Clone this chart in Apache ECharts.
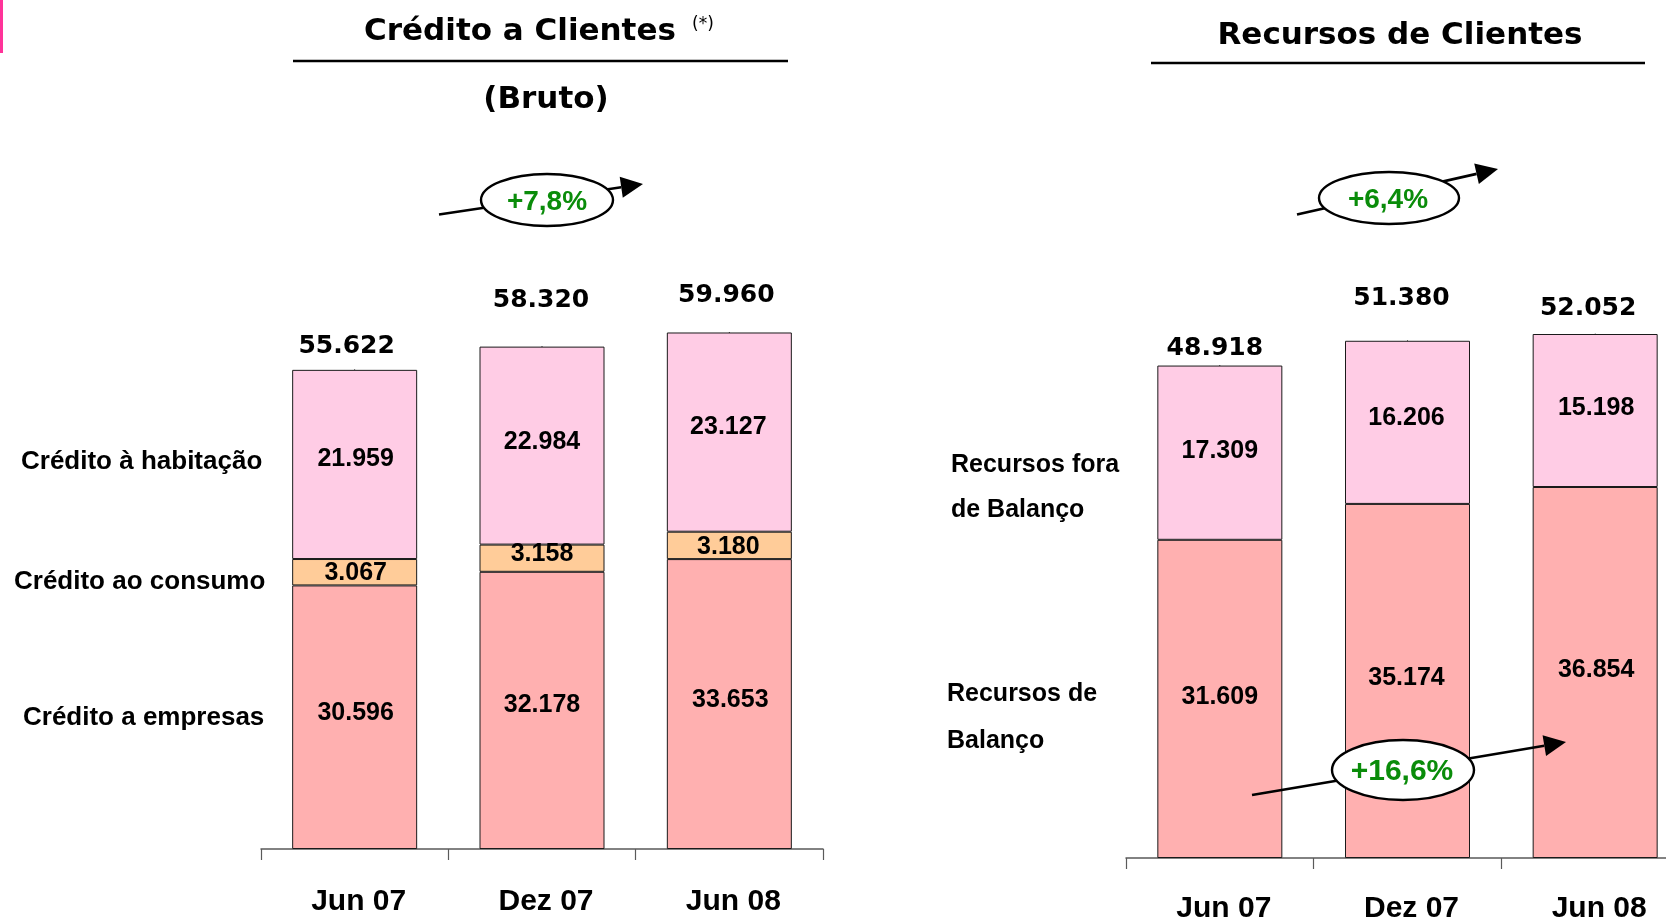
<!DOCTYPE html>
<html>
<head>
<meta charset="utf-8">
<title>Crédito e Recursos de Clientes</title>
<script src="https://cdn.jsdelivr.net/npm/echarts@6/dist/echarts.min.js"></script>
<style>
  html, body { margin: 0; padding: 0; background: #ffffff; width: 1666px; height: 920px; overflow: hidden; }
  /* the right-hand axis runs past the page edge, so the canvas is wider than the page */
  #chart { width: 1720px; height: 920px; }
</style>
</head>
<body>
<div id="chart"></div>
<script>
// Values in € millions
const categories = ['Jun 07', 'Dez 07', 'Jun 08'];

const creditoEmpresas  = [30596, 32178, 33653];
const creditoConsumo   = [3067, 3158, 3180];
const creditoHabitacao = [21959, 22984, 23127];
const creditoTotal     = [55622, 58320, 59960];

const recursosBalanco     = [31609, 35174, 36854];
const recursosForaBalanco = [17309, 16206, 15198];
const recursosTotal       = [48918, 51380, 52052];

// Label nudges (px): [dx, dy] per bar
const nudge = {
  empresas:  [[1, -4.5], [0, -5], [1, -4]],
  consumo:   [[1, 0.4], [0, -3.7], [-1, 2]],
  habitacao: [[1, -5.5], [0, -3.7], [-1, -5]],
  balanco:   [[0, -2], [-1, -3.2], [1, -2.2]],
  fora:      [[0, -1.3], [-1, -3.8], [1, -2.6]],
  totCred:   [[-8, -8.5], [-1, -31.2], [-3, -22.3]],
  totRec:    [[-5, -3], [-6, -27.7], [-7, -10.6]]
};

const COLOR_BOTTOM = '#FFB0B0';
const COLOR_MID    = '#FFCC99';
const COLOR_TOP    = '#FFCCE5';
const GREEN        = '#0A8C0A';

const fmt = v => String(v).replace(/\B(?=(\d{3})+(?!\d))/g, '.');

function withNudge(values, offs) {
  return values.map((v, i) => ({ value: v, label: { offset: offs[i] } }));
}

const insideLabel = {
  show: true,
  position: 'inside',
  formatter: p => fmt(p.value),
  fontFamily: '"Liberation Sans", Arial, sans-serif',
  fontWeight: 'bold',
  fontSize: 25,
  color: '#000',
  textBorderWidth: 0
};

function barSeries(name, values, offs, color, idx, stack) {
  return {
    name, type: 'bar', stack,
    xAxisIndex: idx, yAxisIndex: idx,
    barWidth: 125,
    data: withNudge(values, offs),
    itemStyle: { color, borderColor: '#1a1a1a', borderWidth: 1 },
    label: insideLabel,
    emphasis: { disabled: true },
    silent: true,
    z: 2
  };
}

// A point at each stack total (tucked under the bar's top edge) carries the total label
function totalSeries(values, offs, idx) {
  return {
    type: 'scatter',
    xAxisIndex: idx, yAxisIndex: idx,
    symbol: 'circle',
    symbolSize: 1,
    itemStyle: { color: '#000000', opacity: 1 },
    data: withNudge(values, offs),
    label: {
      show: true, position: 'top', distance: 0,
      formatter: p => fmt(p.value),
      fontFamily: '"DejaVu Sans", sans-serif',
      fontWeight: 'bold',
      fontSize: 25, lineHeight: 28,
      color: '#000000', opacity: 1, textBorderWidth: 0
    },
    emphasis: { disabled: true },
    z: 1, silent: true
  };
}

function xAxis(idx, margin) {
  return {
    type: 'category', gridIndex: idx, data: categories,
    boundaryGap: true,
    axisLine: { lineStyle: { color: '#5a5a5a', width: 1.5 } },
    axisTick: { show: true, alignWithLabel: false, length: 11, lineStyle: { color: '#5a5a5a', width: 1.2 } },
    axisLabel: {
      margin, color: '#000', fontSize: 30, fontWeight: 'bold',
      fontFamily: '"Liberation Sans", Arial, sans-serif',
      padding: [0, 0, 0, 8]
    }
  };
}

function yAxis(idx, max) {
  return { type: 'value', gridIndex: idx, min: 0, max, show: false, splitLine: { show: false } };
}

// Text helper for free-standing captions
function txt(text, x, y, font, align, color) {
  return {
    type: 'text', x, y, z: 102,
    style: { text, font, fill: color || '#000', align: align || 'left', verticalAlign: 'middle' }
  };
}

// Growth badge: arrow passing behind an ellipse with the percentage
function badge(x1, y1, x2, y2, cx, cy, rx, ry, label, tx, ty, size) {
  const dx = x2 - x1, dy = y2 - y1, len = Math.hypot(dx, dy);
  const ux = dx / len, uy = dy / len, px = -uy, py = ux;
  const head = 22, half = 10.5;
  const bx = x2 - ux * head, by = y2 - uy * head;
  return [
    { type: 'line', z: 100, shape: { x1, y1, x2: bx, y2: by }, style: { stroke: '#000', lineWidth: 2.6 } },
    { type: 'polygon', z: 100, shape: { points: [[x2, y2], [bx + px * half, by + py * half], [bx - px * half, by - py * half]] }, style: { fill: '#000' } },
    { type: 'ellipse', z: 101, shape: { cx, cy, rx, ry }, style: { fill: '#fff', stroke: '#000', lineWidth: 2.4 } },
    txt(label, tx, ty, 'bold ' + size + 'px "Liberation Sans", Arial, sans-serif', 'center', GREEN)
  ];
}

const TITLE_FONT = 'bold 31px "DejaVu Sans", sans-serif';
const ROW_FONT_L = 'bold 26px "Liberation Sans", Arial, sans-serif';
const ROW_FONT_R = 'bold 25px "Liberation Sans", Arial, sans-serif';

const graphics = [
  { type: 'rect', z: 100, shape: { x: 0, y: 0, width: 3, height: 53 }, style: { fill: '#FF3399' } },

  txt('Crédito a Clientes', 364, 32, TITLE_FONT),
  txt('(*)', 692, 25, '17px "DejaVu Sans", sans-serif'),
  { type: 'line', z: 100, shape: { x1: 293, y1: 61, x2: 788, y2: 61 }, style: { stroke: '#000', lineWidth: 2.5 } },
  txt('(Bruto)', 546, 100, TITLE_FONT, 'center'),

  txt('Recursos de Clientes', 1400, 36, TITLE_FONT, 'center'),
  { type: 'line', z: 100, shape: { x1: 1151, y1: 63, x2: 1645, y2: 63 }, style: { stroke: '#000', lineWidth: 2.5 } },

  txt('Crédito à habitação', 21, 462, ROW_FONT_L),
  txt('Crédito ao consumo', 14, 582, ROW_FONT_L),
  txt('Crédito a empresas', 23, 718, ROW_FONT_L),

  txt('Recursos fora', 951, 465, ROW_FONT_R),
  txt('de Balanço', 951, 510, ROW_FONT_R),
  txt('Recursos de', 947, 694, ROW_FONT_R),
  txt('Balanço', 947, 741, ROW_FONT_R),

  ...badge(439, 214.5, 643, 184, 547, 200, 66, 26, '+7,8%', 547, 202, 28),
  ...badge(1297, 214.5, 1498, 169, 1389, 198, 70, 26, '+6,4%', 1388, 200, 28),
  ...badge(1252, 795, 1566, 742, 1403, 770, 71, 30, '+16,6%', 1402, 772, 30)
];

const chart = echarts.init(document.getElementById('chart'), null, { renderer: 'canvas' });

chart.setOption({
  backgroundColor: '#ffffff',
  animation: false,
  grid: [
    { left: 261, top: 246, width: 562, height: 603, outerBoundsMode: 'none' },
    { left: 1126, top: 254, width: 563, height: 604, outerBoundsMode: 'none' }
  ],
  xAxis: [xAxis(0, 38), xAxis(1, 36)],
  yAxis: [yAxis(0, 70000), yAxis(1, 60000)],
  series: [
    barSeries('Crédito a empresas', creditoEmpresas, nudge.empresas, COLOR_BOTTOM, 0, 'credito'),
    barSeries('Crédito ao consumo', creditoConsumo, nudge.consumo, COLOR_MID, 0, 'credito'),
    barSeries('Crédito à habitação', creditoHabitacao, nudge.habitacao, COLOR_TOP, 0, 'credito'),
    totalSeries(creditoTotal, nudge.totCred, 0),

    barSeries('Recursos de Balanço', recursosBalanco, nudge.balanco, COLOR_BOTTOM, 1, 'recursos'),
    barSeries('Recursos fora de Balanço', recursosForaBalanco, nudge.fora, COLOR_TOP, 1, 'recursos'),
    totalSeries(recursosTotal, nudge.totRec, 1)
  ],
  graphic: { elements: graphics }
});
</script>
</body>
</html>
